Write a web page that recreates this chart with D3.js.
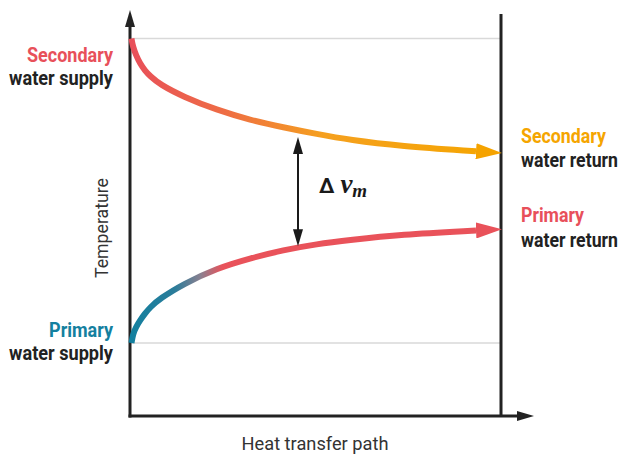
<!DOCTYPE html>
<html>
<head>
<meta charset="utf-8">
<script src="https://cdn.jsdelivr.net/npm/d3@7"></script>
<style>
  html, body { margin: 0; padding: 0; background: #fff; }
  svg { display: block; }
</style>
</head>
<body>
<svg id="chart" width="624" height="455"></svg>
<script>
// ---- data (heat transfer path position, temperature in relative units) ----
const pathPosition   = [0.40, 0.81, 1.62, 2.70, 4.04, 5.39, 8.09, 14.37, 23.37, 32.35, 41.32, 50.32, 59.30, 72.78, 93.26];
const secondaryTemp  = [100, 97.75, 95.63, 93.38, 91.52, 90.07, 87.81, 84.58, 81.06, 78.41, 76.48, 74.70, 73.11, 71.52, 70.12];
const primaryTemp    = [19.34, 21.72, 23.58, 25.30, 27.15, 28.74, 31.13, 34.97, 39.13, 41.77, 43.97, 45.56, 46.62, 48.08, 49.14];
const supplyLevels   = [100, 19.34];       // reference gridlines
const deltaAt        = { x: 45.28, top: 73.9, bottom: 45.0 };
const xTitle = "Heat transfer path";
const yTitle = "Temperature";

const svg = d3.select("#chart");
const x = d3.scaleLinear().domain([0, 100]).range([130, 501]);
const y = d3.scaleLinear().domain([0, 100]).range([416, 38.5]);

const defs = svg.append("defs");
function head(id, color, len, wid) {
  defs.append("marker").attr("id", id)
    .attr("markerUnits", "userSpaceOnUse")
    .attr("viewBox", `0 0 ${len} ${wid}`)
    .attr("markerWidth", len).attr("markerHeight", wid)
    .attr("refX", 0).attr("refY", wid / 2)
    .attr("orient", "auto")
    .append("path").attr("d", `M0,0L${len},${wid/2}L0,${wid}Z`).attr("fill", color);
}
head("hSec", "#f5a300", 26, 16);
head("hPri", "#e9525a", 26, 16);

function grad(id, stops) {
  const g = defs.append("linearGradient").attr("id", id)
    .attr("gradientUnits", "userSpaceOnUse")
    .attr("x1", x(0)).attr("x2", x(100)).attr("y1", 0).attr("y2", 0);
  stops.forEach(s => g.append("stop").attr("offset", s[0]).attr("stop-color", s[1]));
}
grad("gSec", [[0, "#e84f5a"], [0.25, "#ee6c45"], [0.52, "#f5a01f"], [1, "#f5a600"]]);
grad("gPri", [[0, "#12809f"], [0.12, "#2a7c9a"], [0.19, "#8a8090"], [0.25, "#e9525a"], [1, "#e9525a"]]);

// gridlines
svg.selectAll(".grid").data(supplyLevels).join("line")
  .attr("x1", x(0)).attr("x2", x(100))
  .attr("y1", d => y(d)).attr("y2", d => y(d))
  .attr("stroke", "#d9d9d9").attr("stroke-width", 1.5);

// axes
const axisColor = "#222";
svg.append("line").attr("x1", x(0)).attr("x2", x(0)).attr("y1", 417.5).attr("y2", 26)
  .attr("stroke", axisColor).attr("stroke-width", 3);
svg.append("path").attr("d", `M${x(0)-5},27L${x(0)},10L${x(0)+5},27Z`).attr("fill", axisColor);
svg.append("line").attr("x1", x(0) - 1.5).attr("x2", 518).attr("y1", 416).attr("y2", 416)
  .attr("stroke", axisColor).attr("stroke-width", 3);
svg.append("path").attr("d", `M517,411L534,416L517,421Z`).attr("fill", axisColor);
svg.append("line").attr("x1", x(100)).attr("x2", x(100)).attr("y1", 14).attr("y2", 416)
  .attr("stroke", axisColor).attr("stroke-width", 3);

// curves
const line = d3.line().x((d, i) => x(pathPosition[i])).y(d => y(d)).curve(d3.curveBasis);
svg.append("path").attr("d", line(secondaryTemp)).attr("fill", "none")
  .attr("stroke", "url(#gSec)").attr("stroke-width", 6).attr("marker-end", "url(#hSec)");
svg.append("path").attr("d", line(primaryTemp)).attr("fill", "none")
  .attr("stroke", "url(#gPri)").attr("stroke-width", 6).attr("marker-end", "url(#hPri)");

// delta arrow
const dx = x(deltaAt.x), yt = y(deltaAt.top), yb = y(deltaAt.bottom);
svg.append("line").attr("x1", dx).attr("x2", dx).attr("y1", yt + 10).attr("y2", yb - 10)
  .attr("stroke", "#1a1a1a").attr("stroke-width", 2);
svg.append("path").attr("d", `M${dx-5},${yt+17}L${dx},${yt}L${dx+5},${yt+17}Z`).attr("fill", "#1a1a1a");
svg.append("path").attr("d", `M${dx-5},${yb-17}L${dx},${yb}L${dx+5},${yb-17}Z`).attr("fill", "#1a1a1a");
const dl = svg.append("text").attr("x", 319).attr("y", 193).attr("fill", "#1a1a1a");
dl.append("tspan").text("Δ").attr("font-family", "Roboto, sans-serif").attr("font-weight", 700).attr("font-size", 21);
dl.append("tspan").text("v").attr("dx", 6).attr("font-family", "'Liberation Serif', serif")
  .attr("font-weight", 700).attr("font-style", "italic").attr("font-size", 27);
dl.append("tspan").text("m").attr("dy", 4).attr("font-family", "'Liberation Serif', serif")
  .attr("font-weight", 700).attr("font-style", "italic").attr("font-size", 19);

// labels (condensed look via horizontal scaling to the measured widths)
const labels = [
  { t: "Secondary",    x: 113, y: 62,  c: "#e8505a", w: 86,  a: "end" },
  { t: "water supply", x: 113, y: 85,  c: "#222",    w: 104, a: "end" },
  { t: "Primary",      x: 113, y: 337, c: "#14809f", w: 64,  a: "end" },
  { t: "water supply", x: 113, y: 360, c: "#222",    w: 104, a: "end" },
  { t: "Secondary",    x: 521, y: 143, c: "#f5a500", w: 85,  a: "start" },
  { t: "water return", x: 521, y: 167, c: "#222",    w: 97,  a: "start" },
  { t: "Primary",      x: 521, y: 222, c: "#e8505a", w: 63,  a: "start" },
  { t: "water return", x: 521, y: 247, c: "#222",    w: 97,  a: "start" }
];
svg.selectAll(".lab").data(labels).join("text")
  .attr("class", "lab")
  .attr("text-anchor", d => d.a)
  .attr("fill", d => d.c)
  .attr("font-family", "Roboto, sans-serif").attr("font-weight", 700).attr("font-size", 20)
  .text(d => d.t)
  .attr("transform", function(d) {
    const len = this.getComputedTextLength() || d.w;
    return `translate(${d.x},${d.y}) scale(${d.w / len},1)`;
  });

function scaledText(str, w, tf) {
  const t = svg.append("text").attr("text-anchor", "middle")
    .attr("font-family", "Roboto, sans-serif").attr("font-size", 18).attr("fill", "#333")
    .text(str);
  const len = t.node().getComputedTextLength() || w;
  t.attr("transform", `${tf} scale(${w / len},1)`);
}
scaledText(xTitle, 147, "translate(315,450)");
scaledText(yTitle, 100, "translate(108,228) rotate(-90)");
</script>
</body>
</html>
